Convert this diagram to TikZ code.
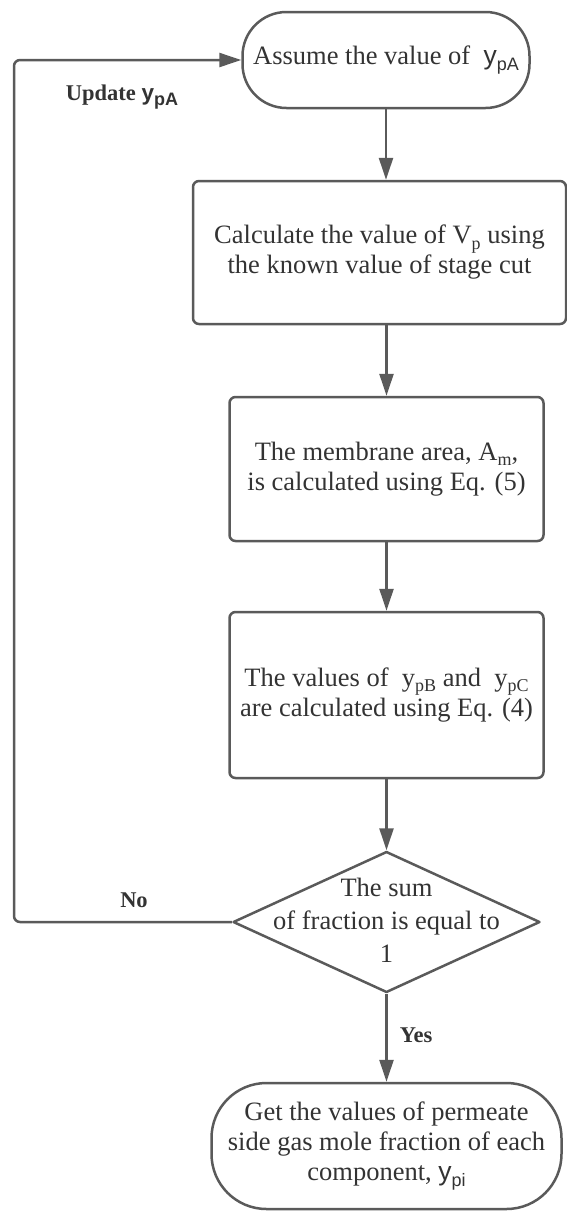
\documentclass[tikz,border=0pt]{standalone}
\usepackage{fontspec}
\setmainfont{Liberation Serif}
\newfontfamily\sansf{Liberation Sans}
\usetikzlibrary{arrows.meta,shapes.geometric}
\definecolor{linec}{HTML}{5A5A5A}
\definecolor{textc}{HTML}{333333}
\newcommand\lowsub[1]{\raisebox{-0.2em}{\fontsize{18}{18}\selectfont #1}}
\newcommand\ysans[1]{{\sansf y\lowsub{#1}}}
\tikzset{
  procbox/.style={draw=linec, line width=2.5pt, rounded corners=6pt, align=center,
    text=textc, font=\fontsize{26.5}{30}\selectfont, inner sep=0pt},
  termbox/.style={procbox},
  decbox/.style={draw=linec, line width=2.5pt, diamond, inner sep=0pt, line join=round},
  arr/.style={draw=linec, line width=2.5pt, -{Triangle[length=22pt,width=14pt]}},
  lbl/.style={text=textc, font=\bfseries\fontsize{22.5}{26}\selectfont, inner sep=0pt}
}
\begin{document}
\begin{tikzpicture}[x=1pt,y=-1pt]
\useasboundingbox (0,0) rectangle (567,1211);
\node[termbox, rounded corners=44pt, minimum width=287pt, minimum height=96pt] (t1) at (386,60) {Assume the value of \ \ysans{pA}};
\node[procbox, minimum width=373pt, minimum height=143pt] (b2) at (379.5,252.5) {Calculate the value of V\lowsub{p} using\\the known value of stage cut};
\node[procbox, minimum width=314pt, minimum height=144pt] (b3) at (386.5,469) {The membrane area, A\lowsub{m},\\is calculated using Eq. (5)};
\node[procbox, minimum width=314pt, minimum height=166pt] (b4) at (386.5,695) {The values of \ y\lowsub{pB} and \ y\lowsub{pC}\\are calculated using Eq. (4)};
\node[decbox, minimum width=307pt, minimum height=141pt] (dia) at (386.5,922) {};
\node[text=textc, font=\fontsize{26.5}{33}\selectfont, align=center, inner sep=0pt] (dtext) at (386.5,920) {The sum\\of fraction is equal to\\1};
\node[termbox, rounded corners=55pt, minimum width=350pt, minimum height=126pt] (t2) at (386.5,1146) {Get the values of permeate\\side gas mole fraction of each\\component, \ysans{pi}};
\coordinate (c1) at (14,922);
\coordinate (c2) at (14,60);
\draw[arr] (t1.south) -- (t1.south |- b2.north);
\draw[arr] (b2.south -| b3.north) -- (b3.north);
\draw[arr] (b3.south) -- (b4.north);
\draw[arr] (b4.south) -- (dia.north);
\draw[arr] (dia.south) -- (t2.north);
\draw[arr, rounded corners=6pt] (dia.west) -- (c1) -- (c2) -- (t1.west);
\node[lbl] (upd) at (122,97) {Update \ysans{pA}};
\node[lbl] (no) at (134,900) {No};
\node[lbl] (yes) at (416,1035) {Yes};
\end{tikzpicture}
\end{document}
